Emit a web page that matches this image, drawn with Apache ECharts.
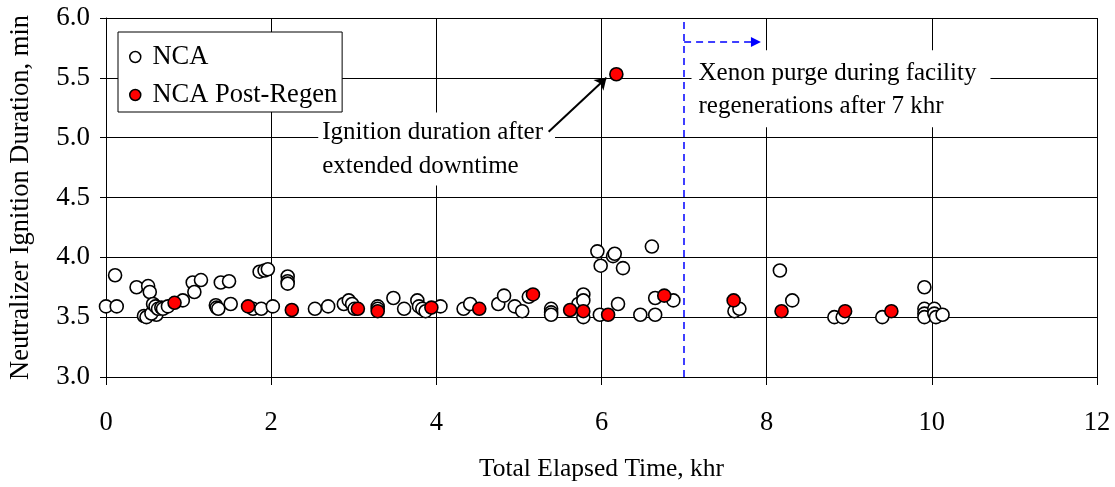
<!DOCTYPE html>
<html><head><meta charset="utf-8">
<script src="https://cdn.jsdelivr.net/npm/echarts@6/dist/echarts.min.js"></script>
<style>html,body{margin:0;padding:0;background:#fff}#c{width:1115px;height:487px}</style>
</head><body><div id="c"></div>
<script>
// ---- data (khr, min) ----
const ncaX = [0.00,0.13,0.11,0.37,0.51,0.53,0.46,0.49,0.61,0.55,0.57,0.60,0.63,0.67,0.69,0.75,0.93,1.05,1.15,1.07,1.39,1.49,1.33,1.34,1.36,1.51,1.78,1.88,1.86,1.92,1.96,2.02,
  2.20,2.20,2.20,2.53,2.69,2.88,2.94,2.98,3.01,3.29,3.29,3.48,3.61,3.77,3.79,3.83,3.87,4.05,
  4.33,4.41,4.75,4.82,4.95,5.04,5.12,5.39,5.39,5.39,5.72,5.78,5.78,5.78,5.98,6.20,
  5.95,5.99,6.14,6.16,6.26,6.61,6.47,6.65,6.65,6.87,
  7.61,7.67,8.16,8.31,8.82,8.92,9.40,9.91,9.91,9.91,9.91,10.03,10.03,10.05,10.13];
const ncaY = [3.59,3.59,3.85,3.75,3.76,3.71,3.51,3.50,3.52,3.53,3.61,3.59,3.57,3.58,3.57,3.59,3.64,3.79,3.81,3.71,3.79,3.80,3.60,3.58,3.57,3.61,3.57,3.57,3.88,3.89,3.90,3.59,
  3.84,3.80,3.78,3.57,3.59,3.61,3.64,3.61,3.57,3.59,3.57,3.66,3.57,3.64,3.59,3.57,3.55,3.59,
  3.57,3.61,3.61,3.68,3.59,3.55,3.67,3.57,3.54,3.52,3.61,3.69,3.64,3.50,3.52,3.61,
  4.05,3.93,4.01,4.03,3.91,4.09,3.52,3.52,3.66,3.64,
  3.55,3.57,3.89,3.64,3.50,3.50,3.50,3.75,3.57,3.53,3.50,3.57,3.53,3.50,3.52];
const regenX = [0.83,1.72,2.25,3.05,3.29,3.94,4.52,5.17,5.62,5.78,6.08,6.18,6.76,7.60,8.18,8.95,9.51];
const regenY = [3.62,3.59,3.56,3.57,3.55,3.58,3.57,3.69,3.56,3.55,3.52,5.53,3.68,3.64,3.55,3.55,3.55];
const seriesNames = ['NCA','NCA Post-Regen'];
const xTitle = 'Total Elapsed Time, khr';
const yTitle = 'Neutralizer Ignition Duration, min';
const purgeStart = 7;
const note1 = 'Ignition duration after\nextended downtime';
const note2 = 'Xenon purge during facility\nregenerations after 7 khr';

const FONT = '"Liberation Serif","Times New Roman",serif';
const zip = (xs, ys) => xs.map((x, i) => [x, ys[i]]);

const chart = echarts.init(document.getElementById('c'), null, {renderer: 'canvas'});
const axisCommon = {
  axisLine: {show: true, lineStyle: {color: '#000', width: 1}},
  splitLine: {show: true, lineStyle: {color: '#000', width: 1}},
  nameLocation: 'middle'
};
chart.setOption({
  animation: false,
  backgroundColor: '#fff',
  grid: {left: 103, right: 18, top: 18, bottom: 109, containLabel: false},
  xAxis: Object.assign({}, axisCommon, {
    type: 'value', min: 0, max: 12, interval: 2,
    name: xTitle, nameGap: 79,
    nameTextStyle: {fontFamily: FONT, fontSize: 25.5, color: '#000'},
    axisTick: {show: true, length: 8, lineStyle: {color: '#000'}},
    axisLabel: {fontFamily: FONT, fontSize: 26.5, color: '#000', margin: 33}
  }),
  yAxis: Object.assign({}, axisCommon, {
    type: 'value', min: 3, max: 6, interval: 0.5,
    name: yTitle, nameGap: 71, nameRotate: 90,
    nameTextStyle: {fontFamily: FONT, fontSize: 26.5, color: '#000'},
    axisTick: {show: true, length: 6, lineStyle: {color: '#000'}},
    axisLabel: {fontFamily: FONT, fontSize: 27, color: '#000', margin: 16,
      formatter: v => v.toFixed(1)}
  }),
  legend: {
    orient: 'vertical', left: 118, top: 32,
    backgroundColor: '#fff', borderColor: '#000', borderWidth: 1,
    padding: [11, 5, 3, 11], itemGap: 10, itemWidth: 11, itemHeight: 11,
    icon: 'circle',
    formatter: n => ' ' + n,
    textStyle: {fontFamily: FONT, fontSize: 26.5, color: '#000', lineHeight: 28},
    data: [
      {name: seriesNames[0], itemStyle: {color: '#fff', borderColor: '#000', borderWidth: 1.5}},
      {name: seriesNames[1], itemStyle: {color: '#ff0000', borderColor: '#000', borderWidth: 1.5}}
    ]
  },
  series: [
    {
      name: seriesNames[0], type: 'scatter', symbol: 'circle', symbolSize: 13,
      itemStyle: {color: '#fff', borderColor: '#000', borderWidth: 1.6, opacity: 1},
      data: zip(ncaX, ncaY), z: 3,
      markLine: {
        silent: true, animation: false, symbol: ['none', 'none'],
        label: {show: false},
        data: [
          {xAxis: purgeStart, lineStyle: {color: '#0000ff', type: [7, 5], width: 1.5}},
          [
            {coord: [purgeStart, 5.8], symbol: 'none', lineStyle: {color: '#0000ff', type: [7, 5], width: 1.5}},
            {coord: [7.87, 5.8], symbol: 'triangle', symbolSize: 10}
          ],
          [
            {coord: [5.36, 5.05], symbol: 'none', lineStyle: {color: '#000', type: 'solid', width: 2}},
            {coord: [6.06, 5.5], symbol: 'arrow', symbolSize: 11}
          ]
        ]
      }
    },
    {
      name: seriesNames[1], type: 'scatter', symbol: 'circle', symbolSize: 13,
      itemStyle: {color: '#ff0000', borderColor: '#000', borderWidth: 1.6, opacity: 1},
      data: zip(regenX, regenY), z: 4
    }
  ]
});

function place() {
  const p1 = chart.convertToPixel({gridIndex: 0}, [2.57, 5.21]);
  const p2 = chart.convertToPixel({gridIndex: 0}, [7.09, 5.73]);
  chart.setOption({
    graphic: [
      {type: 'text', x: p1[0], y: p1[1], z: 1,
        style: {text: note1, font: '25px ' + FONT, fill: '#000', lineHeight: 34,
          backgroundColor: '#fff', padding: [3, 12, 2, 4]}},
      {type: 'text', x: p2[0], y: p2[1], z: 1,
        style: {text: note2, font: '25px ' + FONT, fill: '#000', lineHeight: 33,
          backgroundColor: '#fff', padding: [7, 14, 4, 7]}}
    ]
  });
}
place();
</script></body></html>
